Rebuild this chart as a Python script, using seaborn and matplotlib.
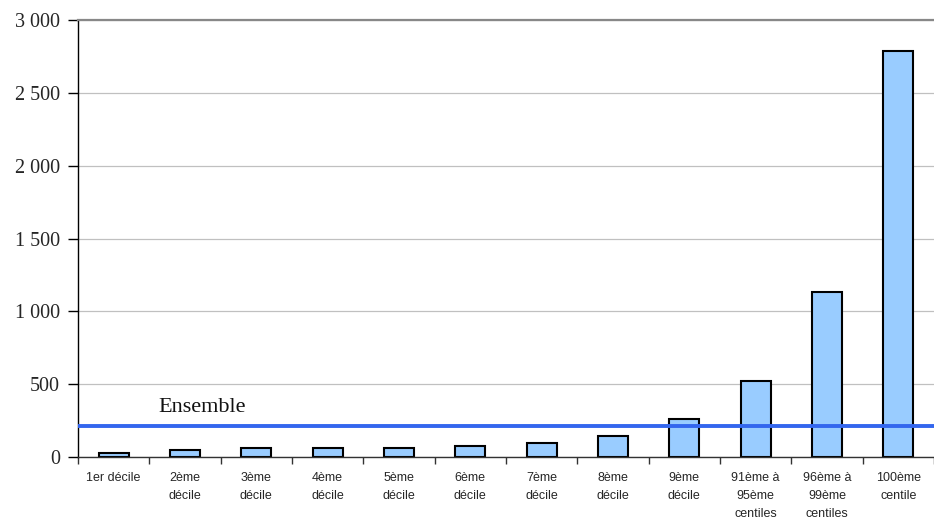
import matplotlib
matplotlib.use("Agg")
import matplotlib.pyplot as plt
import seaborn as sns
import pandas as pd
import numpy as np
from matplotlib.ticker import FuncFormatter, FixedLocator

categories = [
    "1er décile", "2ème\ndécile", "3ème\ndécile", "4ème\ndécile",
    "5ème\ndécile", "6ème\ndécile", "7ème\ndécile", "8ème\ndécile",
    "9ème\ndécile", "91ème à\n95ème\ncentiles", "96ème à\n99ème\ncentiles",
    "100ème\ncentile",
]
values = [26, 51, 62, 62, 62, 73, 99, 144, 264, 520, 1133, 2785]
ensemble_value = 211
ensemble_label = "Ensemble"
y_ticks = [0, 500, 1000, 1500, 2000, 2500, 3000]

df = pd.DataFrame({"groupe": categories, "valeur": values})

sns.set_style("white")
fig = plt.figure(figsize=(9.34, 5.22), dpi=100)
ax = fig.add_axes([78 / 934, 1 - 457 / 522, 1 - 78 / 934, (457 - 20) / 522])

sns.barplot(data=df, x="groupe", y="valeur", order=categories, ax=ax,
            color="#99CCFF", edgecolor="black", linewidth=1.5, width=0.42,
            saturation=1)

ax.set_xlim(-0.5, len(categories) - 0.5)
ax.set_ylim(0, 3000)

# horizontal gridlines
ax.yaxis.set_major_locator(FixedLocator(y_ticks))
ax.grid(axis="y", color="#C0C0C0", linewidth=0.9)
ax.grid(axis="x", visible=False)
ax.set_axisbelow(True)

# reference line for the whole population
ax.axhline(ensemble_value, color="#3366EE", linewidth=2.8, zorder=3)
ax.text(1.24, 343, ensemble_label, ha="center", va="center",
        fontsize=16, family="Liberation Serif", color="#111111")

ax.yaxis.set_major_formatter(FuncFormatter(lambda v, p: f"{int(v):,}".replace(",", " ")))
for lab in ax.get_yticklabels():
    lab.set_fontfamily("Liberation Serif")
    lab.set_fontsize(14.5)
ax.tick_params(axis="y", which="major", direction="out", length=7, width=1,
               color="black", pad=6, left=True)

# category labels centred under bars, tick marks between categories
ax.set_xticks(range(len(categories)))
ax.set_xticklabels(categories, fontsize=9, family="Liberation Sans",
                   linespacing=1.66, va="top")
ax.tick_params(axis="x", which="major", length=0, pad=11)
ax.set_xticks(np.arange(-0.5, len(categories), 1), minor=True)
ax.tick_params(axis="x", which="minor", direction="out", length=5, width=1,
               color="#333333", bottom=True)

ax.set_xlabel("")
ax.set_ylabel("")

for side in ["left", "bottom"]:
    ax.spines[side].set_visible(True)
    ax.spines[side].set_color("black")
    ax.spines[side].set_linewidth(1.0)
ax.spines["bottom"].set_color("#333333")
ax.spines["top"].set_visible(True)
ax.spines["top"].set_color("#888888")
ax.spines["top"].set_linewidth(1.6)
ax.spines["right"].set_visible(False)

fig.savefig("out.png", dpi=100)
